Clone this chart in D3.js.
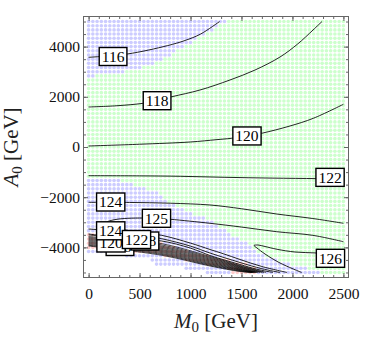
<!DOCTYPE html>
<html>
<head>
<meta charset="utf-8">
<script src="https://cdn.jsdelivr.net/npm/d3@7"></script>
<style>
body { margin: 0; background: #fff; }
text { font-family: "Liberation Serif", "DejaVu Serif", serif; }
</style>
</head>
<body>
<div id="chart"></div>
<script>
// scan grid: 61 x 61 points, M0 0..2500, A0 5000..-5000
var nSteps = 60;
var m0Cols = d3.range(nSteps + 1).map(function (i) { return i * 2500 / nSteps; });
var a0Rows = d3.range(nSteps + 1).map(function (j) { return 5000 - j * 10000 / nSteps; });

// point classes per grid row (top to bottom), run lengths over columns
// g = green, b = blue, r = red, w = no point
var regionRows = [
    "b33 g28", "b31 g30", "b30 g31", "b28 g33", "b26 g35", "b25 g36", "b23 g38",
    "b21 g40", "b20 g41", "b18 g43", "b16 g45", "b13 g48", "b9 g52", "b2 g59",
    "g61", "g61", "g61", "g61", "g61", "g61", "g61", "g61", "g61", "g61", "g61", "g61",
    "g61", "g61", "g61", "g61", "g61", "g61", "g61", "g61", "g61", "g61", "g61", "g61",
    "b8 g53", "b11 g50", "b14 g47", "b17 g44", "b18 g43", "b19 g42", "b21 g40",
    "b23 g38", "b25 g36", "b28 g33", "b30 g31", "b31 g30", "b33 g28",
    "r3 b31 g27", "r9 b27 g25", "r18 b20 g23", "r21 b18 g22",
    "b11 r13 b16 g21", "w9 b9 r11 b13 g19", "w15 b8 r11 b11 g16",
    "w16 b12 r10 b10 g13", "w23 b10 r7 b12 g9", "w28 b6 r6 b15 g6"
];
var regionColors = { g: "#ccffcc", b: "#ccccff", r: "#ffcccc" };

// labelled contour lines, [M0, A0]
var contour116 = [[0, 3574], [380, 3706], [772, 4037], [946, 4244], [1100, 4503], [1285, 5000]];
var contour118 = [[0, 1594], [270, 1642], [534, 1741], [671, 1853], [818, 2004], [1093, 2271],
    [1387, 2670], [1633, 3068], [1878, 3586], [2050, 4100], [2202, 4662], [2290, 5000]];
var contour120 = [[0, 40], [500, 110], [1000, 200], [1250, 290], [1400, 347], [1554, 440],
    [1697, 546], [1976, 837], [2205, 1144], [2500, 1702]];
var contour122 = [[0, -1143], [500, -1150], [900, -1167], [1330, -1207], [1800, -1240],
    [2240, -1260], [2500, -1280]];
var contour124a = [[0, -2204], [400, -2210], [800, -2240], [1191, -2311], [1500, -2460],
    [1845, -2670], [2200, -2850], [2500, -3040]];
var contour125 = [[2500, -3774], [2200, -3520], [1845, -3375], [1500, -3190], [1191, -3040],
    [806, -2881], [666, -2840], [500, -2830], [350, -2850], [250, -2900], [180, -3000],
    [200, -3120], [300, -3250], [450, -3370], [717, -3519], [1000, -3830], [1191, -4084],
    [1321, -4252], [1486, -4483], [1700, -4762], [1947, -5000]];
var contour126 = [[2090, -5000], [1878, -4622], [1731, -4264], [1652, -4025], [1623, -3925],
    [1662, -3905], [1731, -3965], [1849, -4076], [2025, -4184], [2241, -4224], [2500, -4300]];
var contour124b = [[0, -3268], [217, -3330], [357, -3387], [717, -3654], [1000, -3950],
    [1191, -4224], [1486, -4603], [1700, -4850], [1878, -5000]];
var contour122b = [[0, -3467], [470, -3690], [717, -3746], [1000, -4030], [1191, -4324],
    [1486, -4682], [1650, -4870], [1809, -5000]];

// dense bundle near the excluded corner
var contour120b = [[0, -3507], [720, -3853], [1191, -4363], [1486, -4722], [1741, -5000]];
var contour118b = [[0, -3567], [720, -3905], [1191, -4399], [1486, -4746], [1721, -5000]];
var contour116b = [[0, -3606], [720, -3953], [1191, -4435], [1486, -4770], [1702, -5000]];
var contour114 = [[0, -3646], [720, -3997], [1191, -4471], [1486, -4794], [1682, -5000]];
var contour112 = [[0, -3686], [720, -4041], [1191, -4507], [1486, -4818], [1662, -5000]];
var contour110 = [[0, -3726], [720, -4084], [1191, -4543], [1486, -4842], [1652, -5000]];
var contour108 = [[0, -3766], [720, -4124], [1191, -4579], [1486, -4866], [1643, -5000]];
var contour106 = [[0, -3805], [720, -4164], [1191, -4615], [1486, -4886], [1633, -5000]];
var contour104 = [[0, -3845], [720, -4204], [1191, -4650], [1486, -4905], [1623, -5000]];
var contour102 = [[0, -3885], [720, -4244], [1191, -4682], [1486, -4925], [1613, -5000]];
var contour100 = [[0, -3917], [720, -4280], [1191, -4714], [1486, -4945], [1608, -5000]];
var contour98 = [[0, -3945], [720, -4316], [1191, -4742], [1486, -4961], [1603, -5000]];

var contours = [contour116, contour118, contour120, contour122, contour124a, contour125,
    contour126, contour124b, contour122b];
var bundle = [contour120b, contour118b, contour116b, contour114, contour112, contour110,
    contour108, contour106, contour104, contour102, contour100, contour98];

// contour labels [text, M0, A0], in drawing order
var contourLabels = [
    ["116", 308, -3965], ["118", 553, -3746], ["120", 220, -3825], ["124", 217, -3339],
    ["122", 470, -3686], ["125", 666, -2841], ["124", 217, -2192], ["116", 240, 3606],
    ["118", 672, 1845], ["120", 1554, 440], ["122", 2369, -1210], ["126", 2373, -4435]
];

var xMajor = [0, 500, 1000, 1500, 2000, 2500];
var xMinor = d3.range(0, 2501, 100);
var yMajor = [-4000, -2000, 0, 2000, 4000];
var yMinor = d3.range(-5000, 5001, 500);

var width = 374, height = 341;
var plotL = 83.5, plotR = 348.5, plotT = 16.5, plotB = 277.5;
var serif = "Liberation Serif, DejaVu Serif, serif";

var x = d3.scaleLinear().domain([-50, 2550]).range([plotL, plotR]);
var y = d3.scaleLinear().domain([-5200, 5200]).range([plotB, plotT]);

var svg = d3.select("#chart").append("svg")
    .attr("width", width)
    .attr("height", height);

// scan points
var cells = [];
regionRows.forEach(function (row, j) {
    var i = 0;
    row.split(" ").forEach(function (run) {
        var key = run[0], n = +run.slice(1);
        for (var k = 0; k < n; k++, i++) {
            if (key !== "w") cells.push({ m0: m0Cols[i], a0: a0Rows[j], key: key });
        }
    });
});

svg.append("g").selectAll("circle")
    .data(cells)
    .enter().append("circle")
    .attr("cx", function (d) { return x(d.m0); })
    .attr("cy", function (d) { return y(d.a0); })
    .attr("r", 1.8)
    .attr("fill", function (d) { return regionColors[d.key]; });

// contour lines
var line = d3.line()
    .curve(d3.curveCatmullRom.alpha(0.5))
    .x(function (d) { return x(d[0]); })
    .y(function (d) { return y(d[1]); });

svg.append("g").selectAll("path")
    .data(bundle)
    .enter().append("path")
    .attr("d", line)
    .attr("fill", "none")
    .attr("stroke", "#000")
    .attr("stroke-width", 0.7);

svg.append("g").selectAll("path")
    .data(contours)
    .enter().append("path")
    .attr("d", line)
    .attr("fill", "none")
    .attr("stroke", "#000")
    .attr("stroke-width", 0.85);

// labels
var lab = svg.append("g").selectAll("g")
    .data(contourLabels)
    .enter().append("g")
    .attr("transform", function (d) { return "translate(" + x(d[1]) + "," + y(d[2]) + ")"; });

lab.append("rect");
lab.append("text")
    .attr("text-anchor", "middle")
    .attr("dy", "0.34em")
    .attr("font-family", serif)
    .attr("font-size", "15.5px")
    .attr("fill", "#000")
    .text(function (d) { return d[0]; });

lab.each(function () {
    var g = d3.select(this);
    var w = g.select("text").node().getComputedTextLength() + 5;
    g.select("rect")
        .attr("x", -w / 2).attr("y", -9)
        .attr("width", w).attr("height", 18)
        .attr("fill", "#fff")
        .attr("stroke", "#000")
        .attr("stroke-width", 1.4);
});

// frame and ticks
var frameColor = "#666";

function styleAxis(g) {
    g.attr("font-family", serif).attr("font-size", 15.5);
    g.select(".domain").remove();
    g.selectAll(".tick line").attr("stroke", frameColor);
    g.selectAll(".tick text").attr("fill", "#111");
}

svg.append("g").attr("transform", "translate(0," + plotB + ")")
    .call(d3.axisBottom(x).tickValues(xMinor).tickSize(-2.5).tickFormat(""))
    .call(styleAxis);
svg.append("g").attr("transform", "translate(0," + plotB + ")")
    .call(d3.axisBottom(x).tickValues(xMajor).tickSize(-4.5).tickPadding(10).tickFormat(d3.format("d")))
    .call(styleAxis);
svg.append("g").attr("transform", "translate(0," + plotT + ")")
    .call(d3.axisTop(x).tickValues(xMinor).tickSize(-2.5).tickFormat(""))
    .call(styleAxis);
svg.append("g").attr("transform", "translate(0," + plotT + ")")
    .call(d3.axisTop(x).tickValues(xMajor).tickSize(-4.5).tickFormat(""))
    .call(styleAxis);

svg.append("g").attr("transform", "translate(" + plotL + ",0)")
    .call(d3.axisLeft(y).tickValues(yMinor).tickSize(-2.5).tickFormat(""))
    .call(styleAxis);
svg.append("g").attr("transform", "translate(" + plotL + ",0)")
    .call(d3.axisLeft(y).tickValues(yMajor).tickSize(-4.5).tickPadding(3.5).tickFormat(d3.format("d")))
    .call(styleAxis);
svg.append("g").attr("transform", "translate(" + plotR + ",0)")
    .call(d3.axisRight(y).tickValues(yMinor).tickSize(-2.5).tickFormat(""))
    .call(styleAxis);
svg.append("g").attr("transform", "translate(" + plotR + ",0)")
    .call(d3.axisRight(y).tickValues(yMajor).tickSize(-4.5).tickFormat(""))
    .call(styleAxis);

svg.append("rect")
    .attr("x", plotL).attr("y", plotT)
    .attr("width", plotR - plotL).attr("height", plotB - plotT)
    .attr("fill", "none")
    .attr("stroke", frameColor)
    .attr("stroke-width", 1);

// axis titles
var xTitle = svg.append("text")
    .attr("x", (plotL + plotR) / 2)
    .attr("y", 328)
    .attr("text-anchor", "middle")
    .attr("font-family", serif)
    .attr("font-size", "21px")
    .attr("fill", "#222");
xTitle.append("tspan").attr("font-style", "italic").text("M");
xTitle.append("tspan").attr("font-size", "15px").attr("dy", "4").text("0");
xTitle.append("tspan").attr("dy", "-4").text(" [GeV]");

var yTitle = svg.append("text")
    .attr("transform", "translate(18," + (plotT + plotB) / 2 + ") rotate(-90)")
    .attr("text-anchor", "middle")
    .attr("font-family", serif)
    .attr("font-size", "21px")
    .attr("fill", "#222");
yTitle.append("tspan").attr("font-style", "italic").text("A");
yTitle.append("tspan").attr("font-size", "15px").attr("dy", "4").text("0");
yTitle.append("tspan").attr("dy", "-4").text(" [GeV]");
</script>
</body>
</html>
